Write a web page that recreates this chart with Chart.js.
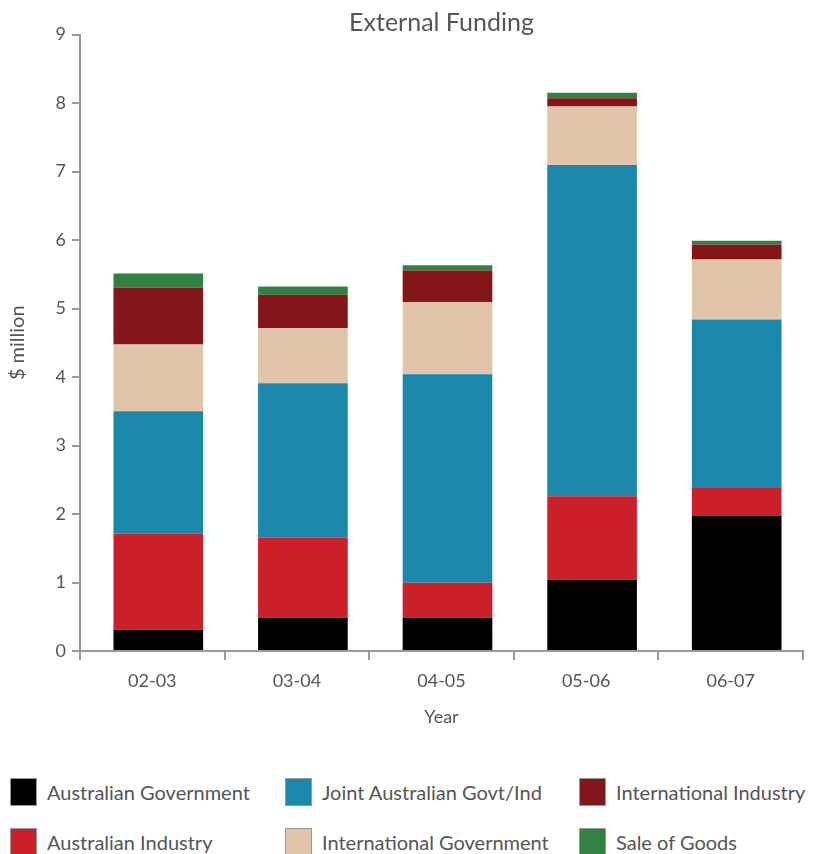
<!DOCTYPE html>
<html>
<head>
<meta charset="utf-8">
<title>External Funding</title>
<script src="https://cdn.jsdelivr.net/npm/chart.js@4"></script>
<style>
  body { margin: 0; background: #fff; font-family: Lato, sans-serif; }
  .wrap { position: relative; width: 813px; height: 854px; overflow: hidden; }
  .chart-box { position: absolute; left: 0; top: 0; width: 813px; height: 745px; }
  .legend-item { position: absolute; display: flex; align-items: center; font-size: 20px; color: #555; white-space: nowrap; }
  .legend-item .swatch { width: 27px; height: 28px; border: 1px solid #999; box-sizing: border-box; margin-right: 10px; }
</style>
</head>
<body>
<div class="wrap">
  <div class="chart-box"><canvas id="fundingChart"></canvas></div>
  <div id="legend"></div>
</div>
<script>
const years = ['02-03', '03-04', '04-05', '05-06', '06-07'];

// $ million
const ausGov     = [0.31, 0.485, 0.485, 1.04, 1.97];
const ausInd     = [1.40, 1.17, 0.51, 1.22, 0.41];
const jointGovInd = [1.79, 2.255, 3.045, 4.835, 2.46];
const intGov     = [0.975, 0.80, 1.05, 0.855, 0.875];
const intInd     = [0.83, 0.49, 0.465, 0.12, 0.22];
const saleGoods  = [0.205, 0.12, 0.075, 0.08, 0.055];

const seriesNames = [
  'Australian Government', 'Australian Industry', 'Joint Australian Govt/Ind',
  'International Government', 'International Industry', 'Sale of Goods'
];
const seriesData = [ausGov, ausInd, jointGovInd, intGov, intInd, saleGoods];
const seriesColors = ['#000000', '#cb2029', '#1b87ab', '#e2c4a8', '#821619', '#318241'];

Chart.defaults.font.family = 'Lato, sans-serif';
Chart.defaults.color = '#555';

// the original bars sit a little right of the category centres
const barNudge = {
  id: 'barNudge',
  beforeDatasetsDraw(chart) { chart.ctx.save(); chart.ctx.translate(6, 0); },
  afterDatasetsDraw(chart) { chart.ctx.restore(); }
};

const ctx = document.getElementById('fundingChart').getContext('2d');

new Chart(ctx, {
  type: 'bar',
  data: {
    labels: years,
    datasets: seriesNames.map((name, i) => ({
      label: name,
      data: seriesData[i],
      backgroundColor: seriesColors[i],
      borderWidth: 0,
      barPercentage: 0.62,
      categoryPercentage: 1.0
    }))
  },
  options: {
    responsive: true,
    maintainAspectRatio: false,
    animation: false,
    layout: { padding: { left: 0, right: 10, top: 0, bottom: 0 } },
    plugins: {
      legend: { display: false },
      tooltip: { enabled: false },
      title: {
        display: true,
        text: 'External Funding',
        fullSize: false,
        color: '#555',
        font: { size: 25, weight: 'normal', lineHeight: 0.9 },
        padding: { top: 12, bottom: 0 }
      }
    },
    scales: {
      x: {
        stacked: true,
        grid: { offset: true, drawOnChartArea: false, drawTicks: true, tickLength: 9, color: '#999', lineWidth: 2 },
        border: { color: '#999', width: 2 },
        ticks: { font: { size: 18 }, color: '#555', padding: 10 },
        title: { display: true, text: 'Year', color: '#555', font: { size: 18 }, padding: { top: 4, bottom: 17 } },
        afterFit: s => { s.height = 94; }
      },
      y: {
        stacked: true,
        min: 0,
        max: 9,
        ticks: { stepSize: 1, font: { size: 18 }, color: '#555', padding: 6 },
        grid: { drawOnChartArea: false, drawTicks: true, tickLength: 8, color: '#999', lineWidth: 2 },
        border: { color: '#999', width: 2 },
        title: { display: true, text: '$ million', color: '#555', font: { size: 20 }, padding: { top: 6, bottom: 0 } },
        afterFit: s => { s.width = 80; }
      }
    }
  },
  plugins: [barNudge]
});

// legend laid out in columns like the original
const legendCols = [10, 285, 579];
const legendRows = [778, 828];
const legendEl = document.getElementById('legend');
seriesNames.forEach((name, i) => {
  const item = document.createElement('div');
  item.className = 'legend-item';
  item.style.left = legendCols[Math.floor(i / 2)] + 'px';
  item.style.top = legendRows[i % 2] + 'px';
  const sw = document.createElement('span');
  sw.className = 'swatch';
  sw.style.background = seriesColors[i];
  const txt = document.createElement('span');
  txt.textContent = name;
  item.appendChild(sw);
  item.appendChild(txt);
  legendEl.appendChild(item);
});
</script>
</body>
</html>
